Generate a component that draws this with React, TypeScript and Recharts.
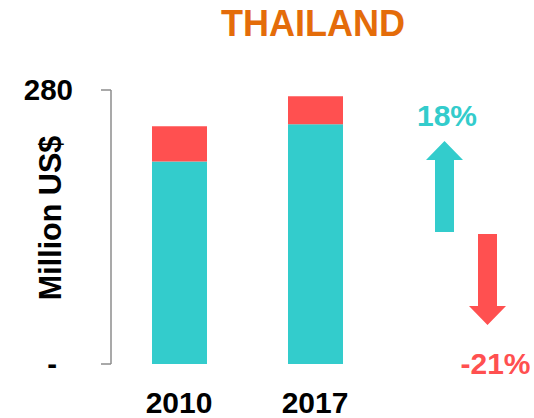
import React from 'react';
import { BarChart, Bar, XAxis, YAxis } from 'recharts';

const years = ['2010', '2017'];
const tealValues = [207, 245];
const redValues = [36, 28.5];
const yTicks = [0, 280];

const TEAL = '#33CCCC';
const RED = '#FF5050';
const FONT = '"Liberation Sans", Arial, sans-serif';

const chartData = years.map((year, i) => ({ year, teal: tealValues[i], red: redValues[i] }));

const pct = (a: number, b: number) => Math.round((b / a - 1) * 100);
const tealChange = pct(tealValues[0], tealValues[1]);
const redChange = pct(redValues[0], redValues[1]);

const YTick = (props: any) => {
    const { x, y, payload } = props;
    const isZero = payload.value === 0;
    return (
        <text
            x={x}
            y={y}
            dx={isZero ? -16 : 0}
            dy="0.355em"
            textAnchor="end"
            fill="#000"
            fontSize={29.5}
            fontWeight={700}
            fontFamily={FONT}
        >
            {isZero ? '-' : payload.value}
        </text>
    );
};

const YLabel = (props: any) => {
    const vb = props.viewBox || { x: 0, y: 90, width: 111, height: 274 };
    const cy = vb.y + vb.height / 2 - 9;
    return (
        <text
            transform={`translate(61, ${cy}) rotate(-90)`}
            textAnchor="middle"
            fill="#000"
            fontSize={30.5}
            fontWeight={700}
            fontFamily={FONT}
        >
            Million US$
        </text>
    );
};

const App: React.FC = () => {
    return (
        <div style={{ position: 'absolute', left: 0, top: 0, width: 534, height: 418, background: '#fff' }}>
            <BarChart
                width={534}
                height={418}
                data={chartData}
                margin={{ top: 90, right: 151, left: 0, bottom: 0 }}
            >
                <XAxis
                    dataKey="year"
                    axisLine={false}
                    tickLine={false}
                    tickSize={0}
                    tickMargin={28}
                    height={54}
                    tick={{ fill: '#000', fontSize: 30, fontWeight: 700, fontFamily: FONT }}
                />
                <YAxis
                    domain={[0, 280]}
                    ticks={yTicks}
                    width={111}
                    axisLine={{ stroke: '#8c8c8c', strokeWidth: 1.5 }}
                    tickLine={{ stroke: '#8c8c8c', strokeWidth: 1.5 }}
                    tickSize={10}
                    tickMargin={28}
                    tick={<YTick />}
                    label={{ content: <YLabel /> }}
                />
                <Bar dataKey="teal" stackId="a" fill={TEAL} barSize={55} isAnimationActive={false} />
                <Bar dataKey="red" stackId="a" fill={RED} barSize={55} isAnimationActive={false} />
            </BarChart>
            <svg
                width={534}
                height={418}
                style={{ position: 'absolute', left: 0, top: 0, pointerEvents: 'none' }}
            >
                <text x={313} y={36} textAnchor="middle" fill="#E46C0A" fontSize={36} fontWeight={700} fontFamily={FONT}>
                    THAILAND
                </text>
                <text x={447} y={126} textAnchor="middle" fill={TEAL} fontSize={30} fontWeight={700} fontFamily={FONT}>
                    {`${tealChange}%`}
                </text>
                <polygon points="444.5,141 463,160 454,160 454,232 435,232 435,160 426,160" fill={TEAL} />
                <polygon points="478,234 497,234 497,306 506,306 487.5,325 469,306 478,306" fill={RED} />
                <text x={495.5} y={374} textAnchor="middle" fill={RED} fontSize={30} fontWeight={700} fontFamily={FONT}>
                    {`${redChange}%`}
                </text>
            </svg>
        </div>
    );
};

export default App;
